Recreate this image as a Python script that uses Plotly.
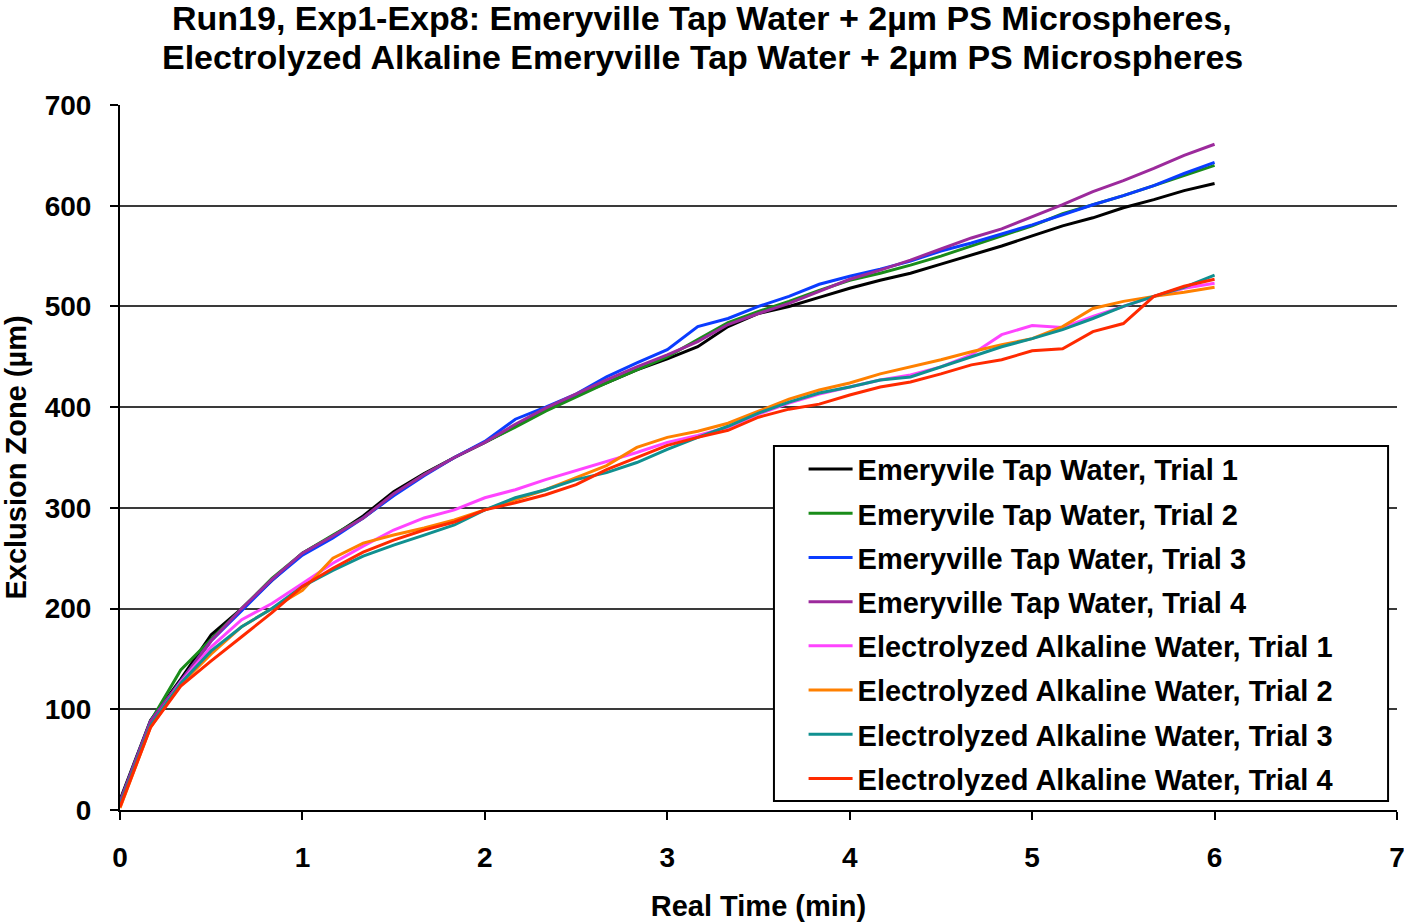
import plotly.graph_objects as go

# time (min), one reading every 10 s
time_min = [0, 0.167, 0.333, 0.5, 0.667, 0.833, 1.0, 1.167, 1.333, 1.5, 1.667, 1.833,
            2.0, 2.167, 2.333, 2.5, 2.667, 2.833, 3.0, 3.167, 3.333, 3.5, 3.667, 3.833,
            4.0, 4.167, 4.333, 4.5, 4.667, 4.833, 5.0, 5.167, 5.333, 5.5, 5.667, 5.833, 6.0]

tap_1 = [10, 89, 130, 174, 200, 228, 255, 272, 292, 316, 334, 350, 365, 381, 397, 412, 424, 437,
         448, 460, 480, 493, 500, 509, 518, 526, 533, 542, 551, 560, 570, 580, 588, 598, 606, 615, 622]
tap_2 = [8, 88, 139, 170, 200, 230, 255, 273, 290, 313, 333, 350, 365, 380, 396, 410, 424, 437,
         450, 467, 484, 495, 505, 516, 526, 533, 541, 550, 560, 570, 580, 592, 601, 610, 620, 630, 640]
tap_3 = [8, 88, 128, 168, 198, 228, 253, 270, 290, 312, 332, 350, 366, 388, 400, 413, 430, 444,
         457, 480, 488, 500, 510, 522, 530, 537, 545, 555, 563, 572, 581, 591, 601, 610, 620, 632, 643]
tap_4 = [8, 88, 128, 168, 200, 229, 255, 272, 290, 314, 333, 350, 365, 383, 399, 413, 427, 440,
         452, 465, 482, 493, 503, 515, 527, 536, 546, 557, 568, 577, 589, 601, 614, 625, 637, 650, 661]
alk_1 = [3, 83, 127, 162, 189, 205, 225, 245, 262, 278, 290, 298, 310, 318, 328, 337, 346, 355,
         365, 372, 380, 393, 404, 413, 420, 427, 432, 440, 452, 472, 481, 479, 490, 500, 510, 518, 523]
alk_2 = [2, 82, 125, 155, 182, 200, 218, 250, 265, 273, 280, 288, 298, 308, 318, 330, 342, 360,
         370, 376, 384, 396, 408, 417, 424, 433, 440, 447, 455, 462, 468, 480, 498, 505, 510, 514, 519]
alk_3 = [5, 84, 126, 158, 182, 200, 222, 238, 252, 263, 273, 283, 298, 310, 318, 328, 335, 345,
         358, 370, 381, 394, 405, 414, 420, 427, 430, 440, 450, 460, 468, 477, 488, 500, 510, 519, 531]
alk_4 = [3, 82, 123, 148, 172, 196, 222, 240, 256, 268, 278, 286, 298, 305, 313, 323, 338, 350,
         362, 370, 377, 390, 398, 403, 412, 420, 425, 433, 442, 447, 456, 458, 475, 483, 510, 520, 527]

series_names = ["Emeryvile Tap Water, Trial 1", "Emeryvile Tap Water, Trial 2",
                "Emeryville Tap Water, Trial 3", "Emeryville Tap Water, Trial 4",
                "Electrolyzed Alkaline Water, Trial 1", "Electrolyzed Alkaline Water, Trial 2",
                "Electrolyzed Alkaline Water, Trial 3", "Electrolyzed Alkaline Water, Trial 4"]
series_values = [tap_1, tap_2, tap_3, tap_4, alk_1, alk_2, alk_3, alk_4]
series_colors = ["#000000", "#1a8c1a", "#0a3cff", "#9c2a9c",
                 "#ff44ff", "#ff8000", "#109090", "#ff2a00"]

title_lines = ["Run19, Exp1-Exp8: Emeryville Tap Water + 2µm PS Microspheres,",
               "Electrolyzed Alkaline Emeryville Tap Water + 2µm PS Microspheres"]

FONT = "Arial, 'Liberation Sans', sans-serif"

fig = go.Figure()
for i, (name, vals, col) in enumerate(zip(series_names, series_values, series_colors)):
    fig.add_trace(go.Scatter(
        x=time_min, y=vals, mode="lines", name="<b>%s</b>" % name,
        legendgroup="g%d" % i,
        line={"color": col, "width": 3},
    ))

# legend frame (excel-style box, wider than the text)
fig.add_shape(type="rect", xref="paper", yref="paper",
              x0=0.5121, x1=0.9930, y0=0.0128, y1=0.5163,
              line={"color": "black", "width": 2}, fillcolor="white", layer="above")

# two-line title, centred on the page, placed line by line
for txt, ypos in zip(title_lines, [1.1234, 1.068]):
    fig.add_annotation(text="<b>%s</b>" % txt, xref="paper", yref="paper",
                       x=0.4558, y=ypos, xanchor="center", yanchor="middle",
                       showarrow=False, font={"size": 34, "family": FONT, "color": "black"})

fig.update_layout(
    width=1404, height=924,
    paper_bgcolor="white", plot_bgcolor="white",
    margin={"l": 120, "r": 7, "t": 105, "b": 114},
    font={"family": FONT, "color": "black"},
    legend={
        "x": 0.5353, "xanchor": "left", "y": 0.5196, "yanchor": "top",
        "bgcolor": "rgba(0,0,0,0)", "borderwidth": 0,
        "font": {"size": 29, "family": FONT},
        "traceorder": "grouped", "tracegroupgap": 3.5, "itemwidth": 44,
    },
    showlegend=True,
)

fig.update_xaxes(
    range=[0, 7], dtick=1, tick0=0, automargin=False,
    showgrid=False, zeroline=False,
    showline=True, linecolor="black", linewidth=2,
    ticks="outside", ticklen=8, tickwidth=2, tickcolor="black",
    ticklabelstandoff=13, ticklabeloverflow="allow",
    tickfont={"size": 28, "family": FONT},
    title={"text": "<b>Real Time (min)</b>", "font": {"size": 29, "family": FONT}, "standoff": 24},
    tickprefix="<b>", ticksuffix="</b>",
)
fig.update_yaxes(
    range=[0, 700], dtick=100, tick0=0, automargin=False,
    showgrid=True, gridcolor="#3a3a3a", gridwidth=1.5, zeroline=False,
    showline=True, linecolor="black", linewidth=2,
    ticks="outside", ticklen=8, tickwidth=2, tickcolor="black",
    ticklabelstandoff=13,
    tickfont={"size": 28, "family": FONT},
    tickprefix="<b>", ticksuffix="</b>",
    title={"text": "<b>Exclusion Zone (µm)</b>", "font": {"size": 29, "family": FONT}, "standoff": 19},
)

# drop the page's default body margin so the figure sits at the window origin
fig.write_html("out.html", config={"displayModeBar": False},
               post_script="document.body.style.margin='0px';")
